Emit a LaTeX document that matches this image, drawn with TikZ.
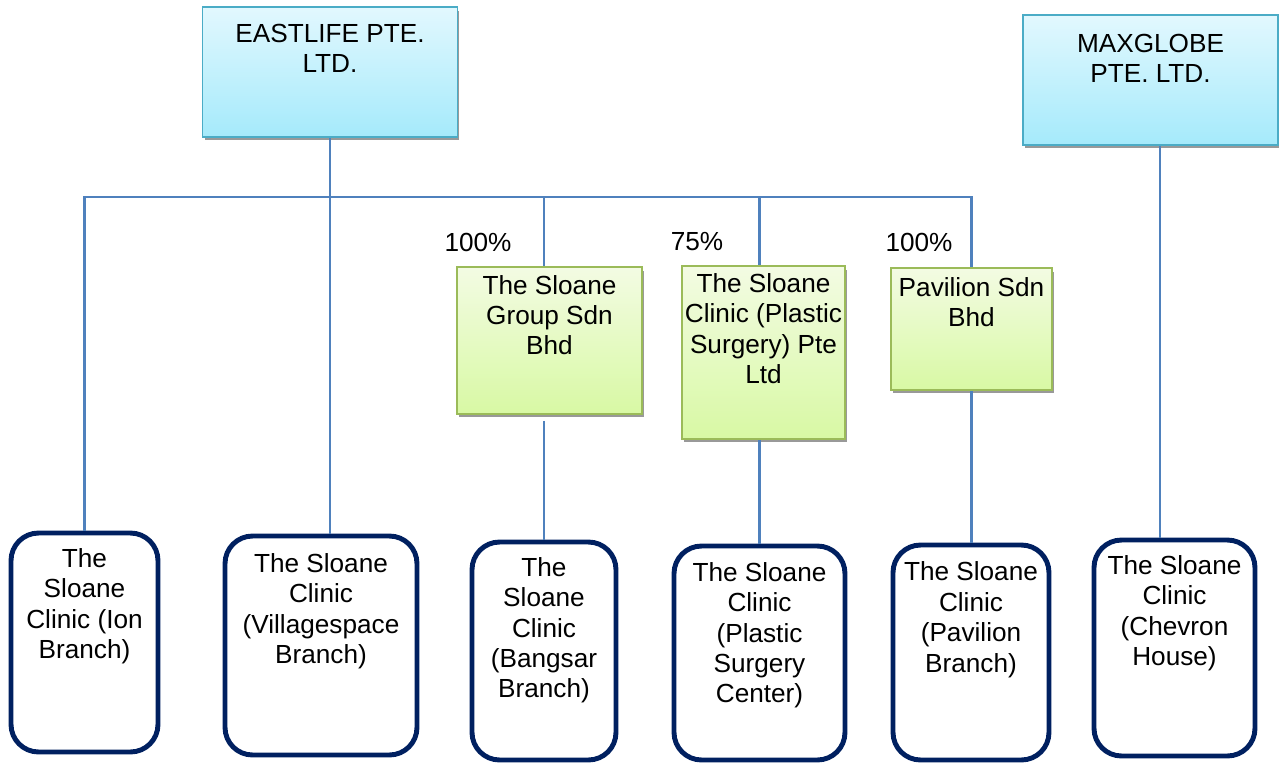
\documentclass[tikz,border=0pt]{standalone}
\usepackage{fontspec}
\setmainfont{Liberation Sans}
\usetikzlibrary{shadows}
\definecolor{linkblue}{HTML}{4F81BD}
\definecolor{coborder}{HTML}{4BACC6}
\definecolor{cotop}{HTML}{E2F8FE}
\definecolor{cobot}{HTML}{A5EAFB}
\definecolor{subborder}{HTML}{9BBB59}
\definecolor{subtop}{HTML}{F3FBE3}
\definecolor{subbot}{HTML}{D8F9A4}
\definecolor{clinicnavy}{HTML}{002060}
\tikzset{
  link/.style={draw=linkblue, line width=1.2pt},
  boxshadow/.style={drop shadow={shadow xshift=0.04cm, shadow yshift=-0.07cm, fill=black!40, opacity=1}},
  topco/.style={draw=coborder, line width=0.9pt, top color=cotop, bottom color=cobot,
    boxshadow, minimum width=5.1cm, minimum height=2.6cm, inner sep=0},
  subco/.style={draw=subborder, line width=0.9pt, top color=subtop, bottom color=subbot,
    boxshadow, inner sep=0},
  clinic/.style={draw=clinicnavy, line width=2.8pt, rounded corners=0.55cm, fill=white, inner sep=0},
  lbl/.style={align=center, inner sep=0, anchor=north},
  pct/.style={inner sep=0}
}
\begin{document}
\begin{tikzpicture}[x=0.02cm, y=-0.02cm, font=\fontsize{14.9}{17.3}\selectfont]
  \useasboundingbox (0,0) rectangle (1279,762);
  \coordinate (bus) at (0,197);

  % holding companies
  \node[topco] (eastlife) at (330,72) {};
  \node[topco] (maxglobe) at (1150.5,80) {};

  % subsidiaries
  \node[subco, minimum width=3.7cm, minimum height=2.94cm] (sloanegrp) at (549.5,340.5) {};
  \node[subco, minimum width=3.26cm, minimum height=3.46cm] (plastic) at (763.5,352.5) {};
  \node[subco, minimum width=3.22cm, minimum height=2.44cm] (pavsdn) at (971.5,329) {};

  % clinics
  \node[clinic, minimum width=2.94cm, minimum height=4.38cm] (ion) at (84.5,642.5) {};
  \node[clinic, minimum width=3.84cm, minimum height=4.38cm] (village) at (321,645.5) {};
  \node[clinic, minimum width=2.88cm, minimum height=4.36cm] (bangsar) at (544,651) {};
  \node[clinic, minimum width=3.42cm, minimum height=4.28cm] (psc) at (759.5,653) {};
  \node[clinic, minimum width=3.12cm, minimum height=4.3cm] (pavilion) at (971,652.5) {};
  \node[clinic, minimum width=3.22cm, minimum height=4.32cm] (chevron) at (1174.5,648) {};

  % texts
  \node[lbl] (eastlifet) at ([yshift=-0.35cm]eastlife.north) {EASTLIFE PTE.\\LTD.};
  \node[lbl] (maxglobet) at ([yshift=-0.39cm]maxglobe.north) {MAXGLOBE\\PTE. LTD.};
  \node[lbl] (sloanegrpt) at ([yshift=-0.17cm]sloanegrp.north) {The Sloane\\Group Sdn\\Bhd};
  \node[lbl] (plastict) at ([yshift=-0.16cm]plastic.north) {The Sloane\\Clinic (Plastic\\Surgery) Pte\\Ltd};
  \node[lbl] (pavsdnt) at ([yshift=-0.19cm]pavsdn.north) {Pavilion Sdn\\Bhd};
  \node[lbl] (iont) at ([yshift=-0.35cm]ion.north) {The\\Sloane\\Clinic (Ion\\Branch)};
  \node[lbl] (villaget) at ([yshift=-0.39cm]village.north) {The Sloane\\Clinic\\(Villagespace\\Branch)};
  \node[lbl] (bangsart) at ([yshift=-0.35cm]bangsar.north) {The\\Sloane\\Clinic\\(Bangsar\\Branch)};
  \node[lbl] (psct) at ([yshift=-0.37cm]psc.north) {The Sloane\\Clinic\\(Plastic\\Surgery\\Center)};
  \node[lbl] (paviliont) at ([yshift=-0.38cm]pavilion.north) {The Sloane\\Clinic\\(Pavilion\\Branch)};
  \node[lbl] (chevront) at ([yshift=-0.35cm]chevron.north) {The Sloane\\Clinic\\(Chevron\\House)};

  % shares
  \node[pct] (pct1) at (478,242) {100\%};
  \node[pct] (pct2) at (697,242) {75\%};
  \node[pct] (pct3) at (919,242) {100\%};

  % links
  \draw[link] (ion.north) -- (ion.north |- bus) -- (pavsdn.north |- bus) -- (pavsdn.north);
  \draw[link] (eastlife.south) -- (eastlife.south |- village.north);
  \draw[link] (bangsar.north |- bus) -- (bangsar.north |- sloanegrp.north);
  \draw[link] (psc.north |- bus) -- (psc.north |- plastic.north);
  \draw[link] ([yshift=-0.12cm]bangsar.north |- sloanegrp.south) -- (bangsar.north);
  \draw[link] (psc.north |- plastic.south) -- (psc.north);
  \draw[link] (pavsdn.south) -- (pavsdn.south |- pavilion.north);
  \draw[link] ([xshift=0.19cm]maxglobe.south) -- ([xshift=0.19cm]maxglobe.south |- chevron.north);
\end{tikzpicture}
\end{document}
